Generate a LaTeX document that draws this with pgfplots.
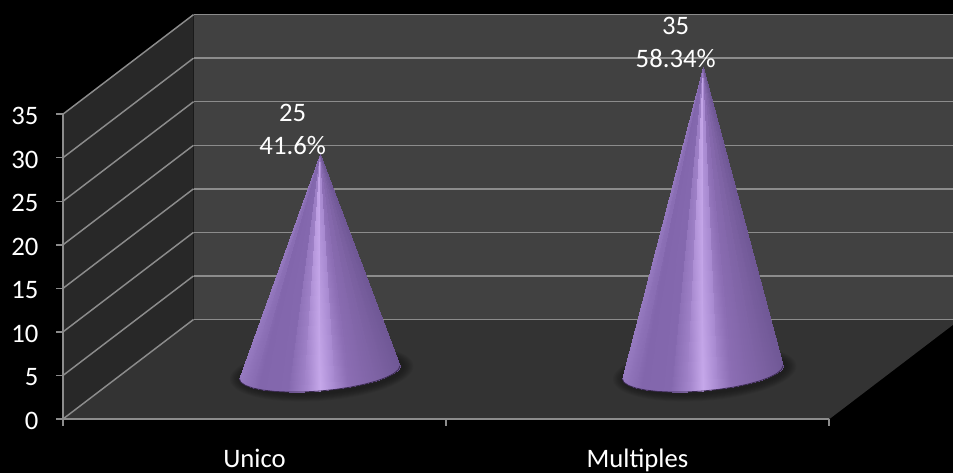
\documentclass[border=0pt]{standalone}
\usepackage{pgfplots}
\pgfplotsset{compat=1.18}
\usepackage{fontspec}
\setmainfont{Carlito}
\definecolor{wallback}{HTML}{414141}
\definecolor{wallside}{HTML}{282828}
\definecolor{floorcol}{HTML}{333333}
\definecolor{rulecol}{HTML}{8C8C8C}
\definecolor{rimcol}{HTML}{3A2A50}

% Front half of a cone: base rim row, then the same columns at the apex
\pgfplotstableread{
x y z m
0.3223 0.4052 0 0.00
0.3384 0.3695 0 0.01
0.3612 0.3377 0 0.04
0.3896 0.3110 0 0.085
0.4227 0.2904 0 0.15
0.4592 0.2767 0 0.22
0.4975 0.2704 0 0.31
0.5364 0.2718 0 0.40
0.5743 0.2808 0 0.50
0.6097 0.2971 0 0.60
0.6412 0.3200 0 0.69
0.6677 0.3487 0 0.78
0.6882 0.3820 0 0.85
0.7018 0.4187 0 0.915
0.7080 0.4574 0 0.96
0.7066 0.4966 0 0.99
0.6977 0.5348 0 1.00
0.51 0.47 25 0.00
0.51 0.47 25 0.01
0.51 0.47 25 0.04
0.51 0.47 25 0.085
0.51 0.47 25 0.15
0.51 0.47 25 0.22
0.51 0.47 25 0.31
0.51 0.47 25 0.40
0.51 0.47 25 0.50
0.51 0.47 25 0.60
0.51 0.47 25 0.69
0.51 0.47 25 0.78
0.51 0.47 25 0.85
0.51 0.47 25 0.915
0.51 0.47 25 0.96
0.51 0.47 25 0.99
0.51 0.47 25 1.00
}\coneunico
\pgfplotstableread{
x y z m
1.3223 0.4052 0 0.00
1.3384 0.3695 0 0.01
1.3612 0.3377 0 0.04
1.3896 0.3110 0 0.085
1.4227 0.2904 0 0.15
1.4592 0.2767 0 0.22
1.4975 0.2704 0 0.31
1.5364 0.2718 0 0.40
1.5743 0.2808 0 0.50
1.6097 0.2971 0 0.60
1.6412 0.3200 0 0.69
1.6677 0.3487 0 0.78
1.6882 0.3820 0 0.85
1.7018 0.4187 0 0.915
1.7080 0.4574 0 0.96
1.7066 0.4966 0 0.99
1.6977 0.5348 0 1.00
1.51 0.47 35 0.00
1.51 0.47 35 0.01
1.51 0.47 35 0.04
1.51 0.47 35 0.085
1.51 0.47 35 0.15
1.51 0.47 35 0.22
1.51 0.47 35 0.31
1.51 0.47 35 0.40
1.51 0.47 35 0.50
1.51 0.47 35 0.60
1.51 0.47 35 0.69
1.51 0.47 35 0.78
1.51 0.47 35 0.85
1.51 0.47 35 0.915
1.51 0.47 35 0.96
1.51 0.47 35 0.99
1.51 0.47 35 1.00
}\conemultiples

% one layer of the soft contact shadow on the floor
\newcommand{\softlayer}[3]{%
  \fill[black,opacity=0.05,shift={(axis cs:#1,0.47,0)},rotate=4.5] (1.5pt,-0.5pt) ellipse (#2pt and #3pt);}
\newcommand{\soft}[1]{%
  \softlayer{#1}{69}{21}\softlayer{#1}{68}{20.3}\softlayer{#1}{67}{19.6}\softlayer{#1}{66}{18.9}%
  \softlayer{#1}{65}{18.2}\softlayer{#1}{64}{17.5}\softlayer{#1}{63}{16.8}\softlayer{#1}{62}{16.1}}

\begin{document}
\begin{tikzpicture}[x=0.75pt,y=0.75pt,font=\fontsize{20}{24}\selectfont]
\path[use as bounding box,fill=black] (0,0) rectangle (953,473);
\clip (0,0) rectangle (953,473);
% chart walls and floor
\fill[wallback] (193.5,153.5) rectangle (960,458.5);
\fill[wallside] (63,54) -- (193.5,153.5) -- (193.5,458.5) -- (63,359) -- cycle;
\fill[floorcol] (63,54) -- (829.5,54) -- (960,153.5) -- (193.5,153.5) -- cycle;
\begin{axis}[
  at={(47.25pt,40.5pt)}, anchor=origin,
  x={(287.25pt,0pt)}, y={(97.875pt,74.625pt)}, z={(0pt,6.5325pt)},
  xmin=0, xmax=2, ymin=0, ymax=1, zmin=0, zmax=35,
  clip=false,
  axis line style={draw=none},
  ytick=\empty,
  ztick={0,5,...,35},
  xtick={0,1,2},
  x tick label as interval,
  xticklabels={Unico,Multiples},
  xtick pos=left, ztick pos=left,
  zmajorgrids,
  major grid style={rulecol,line width=1.1pt},
  tick style={draw=none},
  major tick length=0pt,
  zticklabel style={anchor=east,text=white,xshift=-15pt,yshift=-1.5pt},
  xticklabel style={anchor=base,text=white,yshift=-36.5pt},
  /pgf/number format/assume math mode=true,
  colormap={conecol}{
    rgb255(0)=(150,122,192) rgb255(0.12)=(130,102,172) rgb255(0.3)=(132,104,174)
    rgb255(0.42)=(165,135,205) rgb255(0.5)=(198,168,234) rgb255(0.58)=(172,142,212)
    rgb255(0.68)=(140,110,180) rgb255(0.9)=(122,96,160) rgb255(1)=(112,88,150)
  },
  point meta min=0, point meta max=1,
]
\soft{0.51}
\soft{1.51}
\addplot3[surf,shader=interp,mesh/rows=2,mesh/cols=17,point meta=explicit] table[x=x,y=y,z=z,meta=m] {\coneunico};
\addplot3[surf,shader=interp,mesh/rows=2,mesh/cols=17,point meta=explicit] table[x=x,y=y,z=z,meta=m] {\conemultiples};
\addplot3[rimcol,line width=0.6pt,restrict z to domain=0:0] table[x=x,y=y,z=z] {\coneunico};
\addplot3[rimcol,line width=0.6pt,restrict z to domain=0:0] table[x=x,y=y,z=z] {\conemultiples};
% axis lines with their outward tick marks
\draw[rulecol,line width=1.1pt]
  (axis cs:0,0,35) -- (axis cs:0,0,0) -- (axis cs:2,0,0)
  (axis cs:0,0,0) ++(-5.25pt,0pt) -- ++(5.25pt,0pt)
  (axis cs:0,0,5) ++(-5.25pt,0pt) -- ++(5.25pt,0pt)
  (axis cs:0,0,10) ++(-5.25pt,0pt) -- ++(5.25pt,0pt)
  (axis cs:0,0,15) ++(-5.25pt,0pt) -- ++(5.25pt,0pt)
  (axis cs:0,0,20) ++(-5.25pt,0pt) -- ++(5.25pt,0pt)
  (axis cs:0,0,25) ++(-5.25pt,0pt) -- ++(5.25pt,0pt)
  (axis cs:0,0,30) ++(-5.25pt,0pt) -- ++(5.25pt,0pt)
  (axis cs:0,0,35) ++(-5.25pt,0pt) -- ++(5.25pt,0pt)
  (axis cs:0,0,0) -- ++(0pt,-5.25pt)
  (axis cs:1,0,0) -- ++(0pt,-5.25pt)
  (axis cs:2,0,0) -- ++(0pt,-5.25pt);
\node[text=white,align=center,shift={(-20.25pt,18.75pt)},font=\fontsize{20}{24.75}\selectfont] at (axis cs:0.51,0.47,25) {25\\41.6\%};
\node[text=white,align=center,shift={(-20.25pt,18.75pt)},font=\fontsize{20}{24.75}\selectfont] at (axis cs:1.51,0.47,35) {35\\58.34\%};
\end{axis}
\end{tikzpicture}
\end{document}
